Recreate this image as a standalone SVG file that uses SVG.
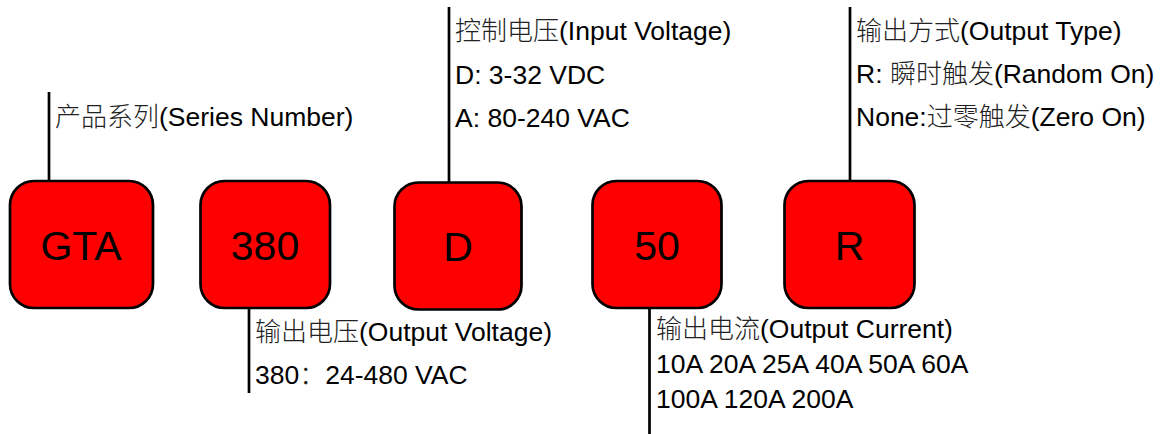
<svg xmlns="http://www.w3.org/2000/svg" width="1164" height="434" viewBox="0 0 1164 434">
<style>
.box{fill:#ff0000;stroke:#000;stroke-width:2.7}
.bt{font-family:"Liberation Sans",Arial,sans-serif;font-size:41px;fill:#000;text-anchor:middle}
.lbl{font-family:"Liberation Sans","Noto Sans CJK SC",sans-serif;font-size:26.5px;fill:#000}
.cjk{font-family:"Noto Sans CJK SC",sans-serif;font-weight:300;font-size:26px;fill:#222}
.ln{stroke:#000;stroke-width:2.7;fill:none}
</style>
<rect width="1164" height="434" fill="#fff"/>
<g id="connectors">
<line class="ln" x1="49" y1="92" x2="49" y2="181"/>
<line class="ln" x1="449" y1="7" x2="449" y2="182"/>
<line class="ln" x1="850" y1="7" x2="850" y2="181"/>
<line class="ln" x1="249" y1="308" x2="249" y2="393"/>
<line class="ln" x1="649.5" y1="308" x2="649.5" y2="434"/>
</g>
<g id="node-gta">
<rect class="box" x="10" y="181" width="143" height="127" rx="24"/>
<text class="bt" x="81" y="260">GTA</text>
</g>
<g id="node-380">
<rect class="box" x="200.5" y="181" width="129.5" height="127" rx="24"/>
<text class="bt" x="265" y="260">380</text>
</g>
<g id="node-d">
<rect class="box" x="394.5" y="182.5" width="127" height="127" rx="24"/>
<text class="bt" x="458" y="261">D</text>
</g>
<g id="node-50">
<rect class="box" x="592.5" y="181" width="129" height="127" rx="24"/>
<text class="bt" x="657" y="260">50</text>
</g>
<g id="node-r">
<rect class="box" x="784.5" y="181" width="130" height="127" rx="24"/>
<text class="bt" x="849.5" y="260">R</text>
</g>
<g id="label-series">
<text class="lbl" x="55" y="126"><tspan class="cjk">产品系列</tspan>(Series Number)</text>
</g>
<g id="label-input">
<text class="lbl" x="455" y="40"><tspan class="cjk">控制电压</tspan>(Input Voltage)</text>
<text class="lbl" x="455" y="84">D: 3-32 VDC</text>
<text class="lbl" x="455" y="127">A: 80-240 VAC</text>
</g>
<g id="label-type">
<text class="lbl" x="856" y="40"><tspan class="cjk">输出方式</tspan>(Output Type)</text>
<text class="lbl" x="856" y="83">R: <tspan class="cjk">瞬时触发</tspan>(Random On)</text>
<text class="lbl" x="856" y="126">None:<tspan class="cjk">过零触发</tspan>(Zero On)</text>
</g>
<g id="label-voltage">
<text class="lbl" x="255" y="341"><tspan class="cjk">输出电压</tspan>(Output Voltage)</text>
<text class="lbl" x="255" y="384">380<tspan class="cjk">：</tspan>24-480 VAC</text>
</g>
<g id="label-current">
<text class="lbl" x="656" y="338"><tspan class="cjk">输出电流</tspan>(Output Current)</text>
<text class="lbl" x="656" y="373">10A 20A 25A 40A 50A 60A</text>
<text class="lbl" x="656" y="408">100A 120A 200A</text>
</g>
</svg>
